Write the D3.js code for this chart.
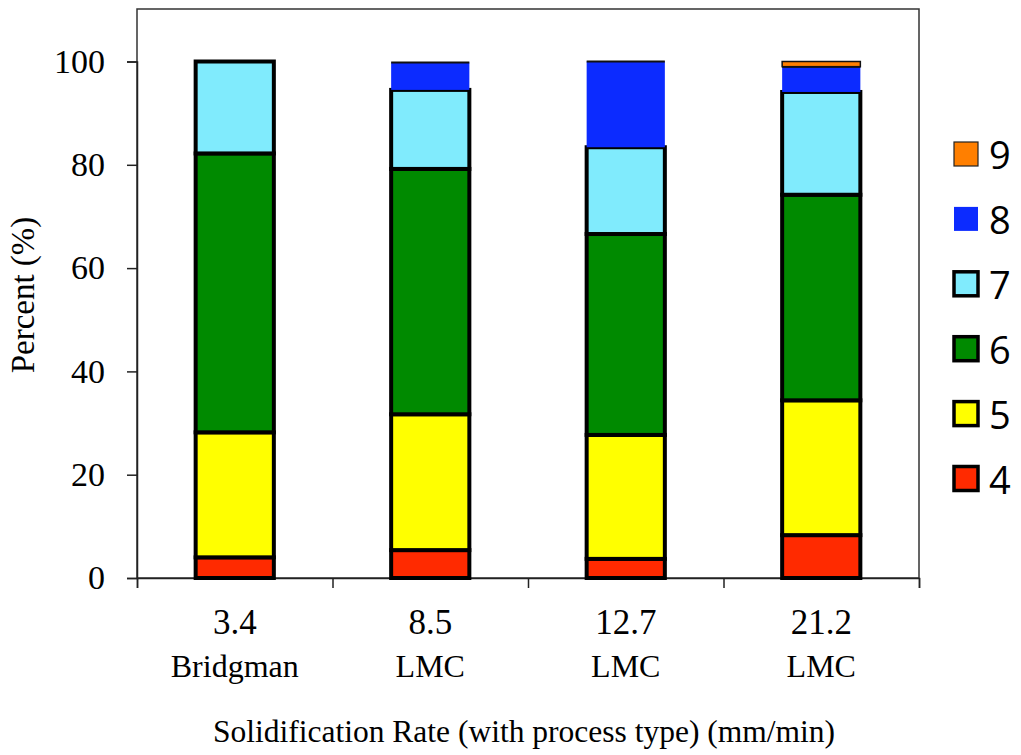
<!DOCTYPE html>
<html>
<head>
<meta charset="utf-8">
<script src="https://cdn.jsdelivr.net/npm/d3@7"></script>
<style>
  html, body { margin: 0; padding: 0; background: #fff; }
  svg { display: block; }
</style>
</head>
<body>
<svg id="chart" width="1021" height="755"></svg>
<script>
// Solidification rates and process types for each bar
const rates = ["3.4", "8.5", "12.7", "21.2"];
const processes = ["Bridgman", "LMC", "LMC", "LMC"];

// Stack groups, bottom to top
const groups = ["4", "5", "6", "7", "8", "9"];

// Percent of each group per bar (same order as rates)
const group4 = [4.0, 5.4, 3.7, 8.3];
const group5 = [24.2, 26.3, 24.0, 26.1];
const group6 = [54.0, 47.5, 38.9, 39.8];
const group7 = [17.8, 15.3, 16.8, 19.9];
const group8 = [0, 5.3, 16.6, 4.9];
const group9 = [0, 0, 0, 1.0];

const yTicks = [0, 20, 40, 60, 80, 100];

const colors = {
  "4": "#ff2a00",
  "5": "#ffff00",
  "6": "#008a00",
  "7": "#80ebfd",
  "8": "#0c2bff",
  "9": "#ff7f00"
};

const serif = "'Liberation Serif', 'Times New Roman', serif";

const rows = rates.map((r, i) => ({
  rate: r,
  process: processes[i],
  "4": group4[i], "5": group5[i], "6": group6[i],
  "7": group7[i], "8": group8[i], "9": group9[i]
}));

const svg = d3.select("#chart");
const margin = { left: 137, top: 9, right: 919, bottom: 578 };

const x = d3.scaleBand()
  .domain(rates)
  .range([margin.left, margin.right])
  .paddingInner(0.6)
  .paddingOuter(0.3);

const y = d3.scaleLinear()
  .domain([0, 100])
  .range([margin.bottom, 61.5]);

const stack = d3.stack().keys(groups);
const series = stack(rows);

// plot frame
svg.append("rect")
  .attr("x", margin.left)
  .attr("y", margin.top)
  .attr("width", margin.right - margin.left)
  .attr("height", margin.bottom - margin.top)
  .attr("fill", "none")
  .attr("stroke", "#333")
  .attr("stroke-width", 1.5);

// y axis
const yAxis = svg.append("g")
  .attr("transform", `translate(${margin.left},0)`)
  .call(d3.axisLeft(y).tickValues(yTicks).tickSize(10).tickPadding(22));
yAxis.attr("font-family", serif);
yAxis.select(".domain").attr("stroke", "#222").attr("stroke-width", 1.5);
yAxis.selectAll(".tick line").attr("stroke", "#222").attr("stroke-width", 1.5);
yAxis.selectAll(".tick text")
  .attr("font-family", serif)
  .attr("font-size", 34)
  .attr("fill", "#000");

// x axis: ticks on category boundaries
const xAxisScale = d3.scaleLinear().domain([0, rates.length]).range([margin.left, margin.right]);
const xAxis = svg.append("g")
  .attr("transform", `translate(0,${margin.bottom})`)
  .call(d3.axisBottom(xAxisScale).tickValues(d3.range(rates.length + 1)).tickSize(10).tickFormat(""));
xAxis.select(".domain").attr("stroke", "#222").attr("stroke-width", 1.5);
xAxis.selectAll(".tick line").attr("stroke", "#222").attr("stroke-width", 1.5);

// category labels
const catLabels = svg.append("g")
  .attr("font-family", serif)
  .attr("text-anchor", "middle")
  .attr("fill", "#000");
rows.forEach(d => {
  const cx = x(d.rate) + x.bandwidth() / 2;
  catLabels.append("text").attr("x", cx).attr("y", 634).attr("font-size", 35).text(d.rate);
  catLabels.append("text").attr("x", cx).attr("y", 677).attr("font-size", 32).text(d.process);
});

// stacked bars
const outlined = new Set(["4", "5", "6", "7"]);
series.forEach(s => {
  const key = s.key;
  const g = svg.append("g").attr("class", "grp-" + key);
  s.forEach((seg, i) => {
    const h = y(seg[0]) - y(seg[1]);
    if (seg[1] - seg[0] <= 0) return;
    const bx = x(rates[i]);
    const rect = g.append("rect")
      .attr("x", bx)
      .attr("y", y(seg[1]))
      .attr("width", x.bandwidth())
      .attr("height", h)
      .attr("fill", colors[key]);
    if (outlined.has(key)) {
      rect.attr("stroke", "#000").attr("stroke-width", 4);
    } else if (key === "9") {
      rect.attr("stroke", "#111").attr("stroke-width", 1.5);
    } else {
      g.append("line")
        .attr("x1", bx).attr("x2", bx + x.bandwidth())
        .attr("y1", y(seg[1])).attr("y2", y(seg[1]))
        .attr("stroke", "#111").attr("stroke-width", 2);
    }
  });
});

// legend
const legendY = d3.scalePoint()
  .domain(groups.slice().reverse())
  .range([154, 478.5]);
const legend = svg.append("g");
groups.forEach(k => {
  const cy = legendY(k);
  const r = legend.append("rect")
    .attr("x", 954).attr("y", cy - 12)
    .attr("width", 24).attr("height", 24)
    .attr("fill", colors[k]);
  if (outlined.has(k)) r.attr("stroke", "#000").attr("stroke-width", 3.5);
  else if (k === "9") r.attr("stroke", "#222").attr("stroke-width", 1.2);
  legend.append("text")
    .attr("x", 989).attr("y", cy + 15)
    .attr("font-family", "'Open Sans', 'Noto Sans', sans-serif")
    .attr("font-size", 38)
    .attr("fill", "#000")
    .text(k);
});

// axis titles
svg.append("text")
  .attr("x", 524).attr("y", 742)
  .attr("text-anchor", "middle")
  .attr("font-family", serif)
  .attr("font-size", 31.5)
  .attr("fill", "#000")
  .text("Solidification Rate (with process type) (mm/min)");

svg.append("text")
  .attr("transform", "translate(34,295) rotate(-90)")
  .attr("text-anchor", "middle")
  .attr("font-family", serif)
  .attr("font-size", 33)
  .attr("fill", "#000")
  .text("Percent (%)");
</script>
</body>
</html>
